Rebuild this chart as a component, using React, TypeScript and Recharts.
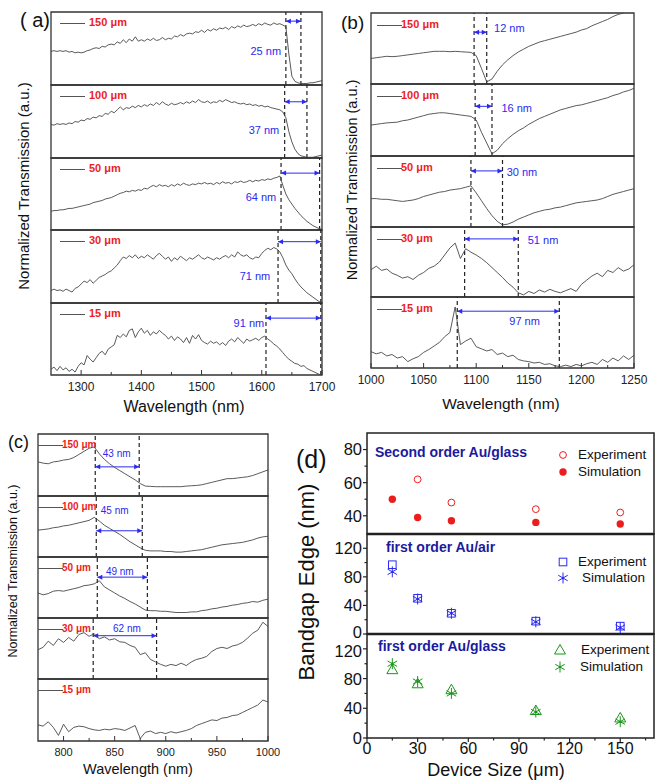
import React from 'react';
import {
  LineChart,
  Line,
  XAxis,
  YAxis,
  ReferenceLine,
  ReferenceArea,
  ReferenceDot,
  ScatterChart,
  Scatter,
} from 'recharts';

const FONT = '"Liberation Sans", Arial, Helvetica, sans-serif';
const CURVE = '#474747';
const FRAME = '#333';
const RED = '#ee1d1d';
const BLUE = '#2a2af2';
const NAVY = '#1b1b9e';
const GREEN = '#1a961a';

// ---------- panel (a): 1250-1700 nm ----------
const A_X = [
  1250, 1255, 1260, 1265, 1270, 1275, 1280, 1285, 1290, 1295,
  1300, 1305, 1310, 1315, 1320, 1325, 1330, 1335, 1340, 1345,
  1350, 1355, 1360, 1365, 1370, 1375, 1380, 1385, 1390, 1395,
  1400, 1405, 1410, 1415, 1420, 1425, 1430, 1435, 1440, 1445,
  1450, 1455, 1460, 1465, 1470, 1475, 1480, 1485, 1490, 1495,
  1500, 1505, 1510, 1515, 1520, 1525, 1530, 1535, 1540, 1545,
  1550, 1555, 1560, 1565, 1570, 1575, 1580, 1585, 1590, 1595,
  1600, 1605, 1610, 1615, 1620, 1625, 1630, 1635, 1640, 1645,
  1650, 1655, 1660, 1665, 1670, 1675, 1680, 1685, 1690, 1695,
  1700,
];
const A150 = [
  0.46, 0.47, 0.46, 0.47, 0.46, 0.47, 0.45, 0.46, 0.44, 0.45,
  0.44, 0.45, 0.47, 0.48, 0.5, 0.51, 0.5, 0.53, 0.52, 0.55,
  0.56, 0.55, 0.59, 0.57, 0.62, 0.58, 0.63, 0.6, 0.66, 0.6,
  0.62, 0.6, 0.63, 0.61, 0.64, 0.61, 0.62, 0.65, 0.62, 0.64,
  0.63, 0.67, 0.66, 0.69, 0.67, 0.7, 0.71, 0.7, 0.73, 0.72,
  0.75, 0.72, 0.76, 0.74, 0.77, 0.75, 0.78, 0.77, 0.79, 0.76,
  0.8, 0.78, 0.81, 0.79, 0.82, 0.8, 0.81, 0.83, 0.81, 0.84,
  0.82, 0.85, 0.83, 0.82, 0.85, 0.83, 0.84, 0.82, 0.8, 0.42,
  0.12, 0.05, 0.03, 0.02, 0.02, 0.02, 0.03, 0.03, 0.04, 0.05,
  0.06,
];
const A100 = [
  0.46, 0.45, 0.47, 0.46, 0.47, 0.46, 0.48, 0.47, 0.5, 0.49,
  0.52, 0.51, 0.54, 0.53, 0.56, 0.55, 0.58, 0.57, 0.61, 0.6,
  0.64, 0.62, 0.66, 0.7, 0.66, 0.69, 0.68, 0.71, 0.69, 0.72,
  0.7, 0.73, 0.71, 0.74, 0.72, 0.76, 0.73, 0.77, 0.74, 0.72,
  0.75, 0.73, 0.74, 0.76, 0.74, 0.77, 0.75, 0.78, 0.76, 0.8,
  0.77, 0.76, 0.78, 0.75, 0.77, 0.76, 0.79, 0.77, 0.8, 0.78,
  0.76, 0.77, 0.75, 0.74, 0.75, 0.73, 0.74, 0.72, 0.73, 0.71,
  0.72, 0.7, 0.71, 0.69, 0.68, 0.67, 0.66, 0.63, 0.55, 0.36,
  0.22, 0.12, 0.06, 0.03, 0.02, 0.01, 0.01, 0.01, 0.02, 0.03,
  0.04,
];
const A50 = [
  0.26, 0.27, 0.27, 0.28, 0.28, 0.29, 0.3, 0.3, 0.31, 0.32,
  0.33, 0.34, 0.35, 0.36, 0.38, 0.39, 0.4, 0.41, 0.43, 0.44,
  0.45, 0.47, 0.49, 0.51, 0.52, 0.54, 0.53, 0.55, 0.54, 0.56,
  0.55, 0.58, 0.57, 0.6, 0.62, 0.6, 0.63, 0.61, 0.62, 0.6,
  0.63, 0.61, 0.64, 0.62, 0.65, 0.63, 0.62, 0.64, 0.63, 0.65,
  0.64, 0.66, 0.64, 0.65, 0.63, 0.66, 0.64, 0.67, 0.65, 0.66,
  0.64, 0.67, 0.66, 0.68, 0.66, 0.67, 0.69, 0.67, 0.69, 0.68,
  0.7, 0.69, 0.71, 0.7, 0.72, 0.73, 0.75, 0.62, 0.5, 0.42,
  0.36, 0.3, 0.25, 0.2, 0.16, 0.12, 0.09, 0.06, 0.04, 0.02,
  0.01,
];
const A30 = [
  0.17, 0.19, 0.17, 0.18, 0.16, 0.19, 0.17, 0.15, 0.2, 0.22,
  0.26, 0.3, 0.28, 0.32, 0.27, 0.31, 0.35, 0.37, 0.39, 0.42,
  0.44, 0.48, 0.52, 0.58, 0.63, 0.61, 0.65, 0.62, 0.66, 0.61,
  0.64, 0.62, 0.66, 0.63, 0.6, 0.65, 0.68, 0.64, 0.6, 0.63,
  0.57, 0.62, 0.59, 0.64, 0.61, 0.58, 0.62, 0.6, 0.63, 0.66,
  0.62, 0.6, 0.63, 0.61, 0.59, 0.62, 0.6, 0.63, 0.65, 0.62,
  0.66, 0.63, 0.7, 0.66, 0.64, 0.66, 0.62, 0.6, 0.63, 0.62,
  0.68, 0.72, 0.75, 0.73, 0.76, 0.74, 0.7, 0.62, 0.52, 0.45,
  0.4, 0.33, 0.27, 0.22, 0.18, 0.14, 0.11, 0.08, 0.05, 0.02,
  0.0,
];
const A15 = [
  0.08, 0.11, 0.06, 0.12, 0.07, 0.1, 0.05, 0.08, 0.04, 0.12,
  0.17, 0.14, 0.27, 0.22, 0.18, 0.24, 0.3, 0.33, 0.28, 0.36,
  0.39, 0.42, 0.55, 0.52, 0.57, 0.53, 0.62, 0.64, 0.52, 0.6,
  0.65, 0.58, 0.62, 0.55, 0.6, 0.57, 0.62, 0.58, 0.55, 0.5,
  0.54, 0.48, 0.53, 0.5, 0.45, 0.52, 0.44, 0.55, 0.5, 0.56,
  0.48, 0.45, 0.43, 0.47, 0.44, 0.46, 0.42, 0.45, 0.41, 0.47,
  0.5, 0.46, 0.52, 0.48, 0.44, 0.5, 0.47, 0.49, 0.51, 0.48,
  0.52, 0.54, 0.5, 0.47, 0.43, 0.4, 0.36, 0.31, 0.26, 0.22,
  0.19, 0.16, 0.15, 0.12, 0.13, 0.09, 0.07, 0.05, 0.03, 0.01,
  0.0,
];
const A_TICKS = [1300, 1350, 1400, 1450, 1500, 1550, 1600, 1650, 1700];
const A_MAJOR = [1300, 1400, 1500, 1600, 1700];
const A_EDGES = [[1640, 1665], [1638, 1675], [1632, 1696], [1627, 1698], [1607, 1698]];
const A_GAPS = ['25 nm', '37 nm', '64 nm', '71 nm', '91 nm'];

// ---------- panel (b): 1000-1250 nm ----------
const B_X = [
  1000, 1005, 1010, 1015, 1020, 1025, 1030, 1035, 1040, 1045,
  1050, 1055, 1060, 1065, 1070, 1075, 1080, 1085, 1090, 1095,
  1100, 1105, 1110, 1115, 1120, 1125, 1130, 1135, 1140, 1145,
  1150, 1155, 1160, 1165, 1170, 1175, 1180, 1185, 1190, 1195,
  1200, 1205, 1210, 1215, 1220, 1225, 1230, 1235, 1240, 1245,
  1250,
];
const B150 = [
  0.36, 0.37, 0.38, 0.39, 0.385, 0.39, 0.4, 0.41, 0.42, 0.43,
  0.44, 0.45, 0.46, 0.46, 0.46, 0.455, 0.46, 0.455, 0.45, 0.445,
  0.4, 0.22, 0.03, 0.07, 0.18, 0.27, 0.34, 0.4, 0.45, 0.49,
  0.53, 0.56, 0.59, 0.61, 0.63, 0.65, 0.67, 0.69, 0.71, 0.73,
  0.76, 0.78, 0.82, 0.85, 0.88, 0.91, 0.95, 0.98, 1.0, 1.03,
  1.05,
];
const B100 = [
  0.43, 0.44, 0.45, 0.46, 0.465, 0.47, 0.49, 0.5, 0.52, 0.54,
  0.56, 0.58, 0.59, 0.6, 0.6, 0.59, 0.58, 0.57, 0.56, 0.55,
  0.5, 0.33, 0.18, 0.03, 0.08, 0.17, 0.24, 0.3, 0.35, 0.39,
  0.44, 0.48, 0.52, 0.55, 0.58, 0.61, 0.64, 0.66, 0.68, 0.7,
  0.71, 0.73, 0.75, 0.77, 0.79, 0.81, 0.84, 0.86, 0.89, 0.91,
  0.94,
];
const B50 = [
  0.4, 0.4, 0.39, 0.39, 0.38, 0.37, 0.36, 0.37, 0.38, 0.4,
  0.43, 0.45, 0.47, 0.49, 0.5, 0.52, 0.53, 0.54, 0.56, 0.58,
  0.48, 0.37, 0.26, 0.16, 0.08, 0.03, 0.04, 0.07, 0.11, 0.14,
  0.17, 0.2, 0.22, 0.24, 0.25, 0.27, 0.28, 0.3, 0.32, 0.34,
  0.35, 0.36, 0.37, 0.38, 0.4, 0.43, 0.46, 0.48, 0.5, 0.52,
  0.54,
];
const B30 = [
  0.39, 0.44, 0.38, 0.4, 0.34, 0.31, 0.27, 0.29, 0.25, 0.31,
  0.35, 0.41, 0.44, 0.5, 0.6, 0.7, 0.77, 0.55, 0.69, 0.64,
  0.6, 0.55, 0.49, 0.42, 0.35, 0.28, 0.2, 0.14, 0.06, 0.03,
  0.08, 0.05, 0.1, 0.07, 0.11, 0.08, 0.06, 0.09, 0.12, 0.08,
  0.18, 0.24, 0.3, 0.34, 0.29, 0.38, 0.35, 0.42, 0.37, 0.4,
  0.46,
];
const B15 = [
  0.23, 0.2, 0.22, 0.17, 0.19, 0.14, 0.16, 0.09, 0.13, 0.16,
  0.22, 0.26, 0.31, 0.36, 0.44, 0.5, 0.86, 0.33, 0.38, 0.42,
  0.3, 0.27, 0.24, 0.26, 0.19, 0.21, 0.16, 0.18, 0.12, 0.1,
  0.09, 0.07, 0.08, 0.05, 0.06, 0.03, 0.02, 0.04, 0.02, 0.05,
  0.03, 0.06, 0.08, 0.05, 0.12, 0.08, 0.14, 0.1, 0.17, 0.12,
  0.18,
];
const B_TICKS = [1000, 1025, 1050, 1075, 1100, 1125, 1150, 1175, 1200, 1225, 1250];
const B_MAJOR = [1000, 1050, 1100, 1150, 1200, 1250];
const B_EDGES = [[1098, 1110], [1099, 1115], [1095, 1125], [1089, 1140], [1082, 1179]];
const B_GAPS = ['12 nm', '16 nm', '30 nm', '51 nm', '97 nm'];

// ---------- panel (c): 775-1000 nm ----------
const C_X = [
  775, 780, 785, 790, 795,
  800, 805, 810, 815, 820, 825, 830, 835, 840, 845,
  850, 855, 860, 865, 870, 875, 880, 885, 890, 895,
  900, 905, 910, 915, 920, 925, 930, 935, 940, 945,
  950, 955, 960, 965, 970, 975, 980, 985, 990, 995,
  1000,
];
const C150 = [
  0.55, 0.53, 0.52, 0.55, 0.56,
  0.58, 0.59, 0.62, 0.67, 0.72, 0.77, 0.79, 0.68, 0.59, 0.52,
  0.46, 0.41, 0.36, 0.31, 0.26, 0.2, 0.16, 0.155, 0.15, 0.15,
  0.15, 0.15, 0.15, 0.15, 0.16, 0.165, 0.17, 0.18, 0.2, 0.22,
  0.24, 0.26, 0.28, 0.28, 0.29, 0.3, 0.31, 0.33, 0.36, 0.39,
  0.42,
];
const C100 = [
  0.44, 0.45, 0.46, 0.48, 0.49,
  0.51, 0.52, 0.54, 0.56, 0.58, 0.6, 0.65, 0.59, 0.52, 0.47,
  0.42, 0.37, 0.31, 0.25, 0.2, 0.15, 0.11, 0.1, 0.1, 0.1,
  0.09, 0.09, 0.08, 0.08, 0.09, 0.1, 0.11, 0.12, 0.14, 0.16,
  0.18, 0.2, 0.21, 0.22, 0.23, 0.24, 0.26, 0.28, 0.31, 0.33,
  0.34,
];
const C50 = [
  0.41, 0.38, 0.4, 0.44, 0.45,
  0.44, 0.46, 0.48, 0.5, 0.53, 0.54, 0.56, 0.61, 0.51, 0.46,
  0.41, 0.36, 0.32, 0.27, 0.23, 0.18, 0.13, 0.12, 0.12, 0.11,
  0.11, 0.1, 0.09, 0.09, 0.09, 0.1, 0.1, 0.12, 0.13, 0.15,
  0.16, 0.18, 0.19, 0.21, 0.22, 0.24, 0.25, 0.27, 0.26, 0.29,
  0.31,
];
const C30 = [
  0.48, 0.52, 0.62, 0.55, 0.66,
  0.6, 0.68, 0.62, 0.73, 0.76, 0.7, 0.74, 0.66, 0.69, 0.64,
  0.66, 0.61, 0.6, 0.55, 0.52, 0.4, 0.43, 0.32, 0.28, 0.24,
  0.21, 0.24, 0.22, 0.26, 0.22, 0.28, 0.32, 0.34, 0.37, 0.45,
  0.5, 0.52, 0.5, 0.54, 0.56, 0.6, 0.67, 0.75, 0.8, 0.93,
  0.86,
];
const C15 = [
  0.26, 0.24, 0.31, 0.22, 0.09,
  0.27, 0.15, 0.22, 0.24, 0.23, 0.2, 0.18, 0.17, 0.19, 0.18,
  0.2, 0.19, 0.17, 0.21, 0.25, 0.04, 0.14, 0.16, 0.12, 0.14,
  0.12, 0.15, 0.13, 0.15, 0.17, 0.2, 0.25, 0.28, 0.31, 0.34,
  0.33, 0.37, 0.38, 0.41, 0.42, 0.46, 0.5, 0.54, 0.58, 0.66,
  0.63,
];
const C_TICKS = [800, 825, 850, 875, 900, 925, 950, 975, 1000];
const C_MAJOR = [800, 850, 900, 950, 1000];
const C_EDGES = [[831, 874], [832, 877], [833, 882], [829, 891], null];
const C_GAPS = ['43 nm', '45 nm', '49 nm', '62 nm', ''];

const SIZES = ['150 μm', '100 μm', '50 μm', '30 μm', '15 μm'];

// ---------- panel (d): bandgap edge vs device size ----------
const DEVICE = [15, 30, 50, 100, 150];
const SO_EXP = [null, 62, 48, 44, 42];
const SO_SIM = [50, 39, 37, 36, 35];
const AIR_EXP = [97, 50, 29, 18, 11];
const AIR_SIM = [87, 49, 29, 17, 9];
const GL_EXP = [92, 73, 65, 37, 27];
const GL_SIM = [100, 76, 60, 35, 22];
const D_XTICKS = [0, 15, 30, 45, 60, 75, 90, 105, 120, 135, 150, 165];
const D_XMAJOR = [0, 30, 60, 90, 120, 150];

type Anchor = 'start' | 'middle' | 'end';
type Spec = {
  left: number; top: number; width: number; rows: number[]; domain: [number, number];
  xs: number[]; ys: number[][]; ticks: number[]; major: number[];
  edges: (number[] | null)[]; gaps: string[];
  arrowY: number[]; labels: [number, number, Anchor][];
  legend: { x0: number; x1: number; tx: number; dy: number; size: number };
  tickFont: number; nmFont: number; axisH: number;
};

const PANEL_A: Spec = {
  left: 51, top: 12, width: 271, rows: [73, 73, 72, 73, 72], domain: [1250, 1700],
  xs: A_X, ys: [A150, A100, A50, A30, A15], ticks: A_TICKS, major: A_MAJOR,
  edges: A_EDGES, gaps: A_GAPS,
  arrowY: [0.875, 0.77, 0.79, 0.84, 0.79],
  labels: [[1632, 0.47, 'end'], [1629, 0.38, 'end'], [1624, 0.45, 'end'], [1614, 0.37, 'end'], [1604, 0.72, 'end']],
  legend: { x0: 60, x1: 85, tx: 89, dy: 11, size: 11 },
  tickFont: 12, nmFont: 11, axisH: 20,
};
const PANEL_B: Spec = {
  left: 371, top: 13, width: 263, rows: [71, 72, 71, 70, 71], domain: [1000, 1250],
  xs: B_X, ys: [B150, B100, B50, B30, B15], ticks: B_TICKS, major: B_MAJOR,
  edges: B_EDGES, gaps: B_GAPS,
  arrowY: [0.73, 0.69, 0.79, 0.83, 0.8],
  labels: [[1117, 0.79, 'start'], [1124, 0.67, 'start'], [1129, 0.77, 'start'], [1149, 0.81, 'start'], [1146, 0.66, 'middle']],
  legend: { x0: 377, x1: 402, tx: 401, dy: 12, size: 11 },
  tickFont: 12, nmFont: 11, axisH: 20,
};
const PANEL_C: Spec = {
  left: 38, top: 434, width: 230, rows: [62, 61, 61, 61, 62], domain: [775, 1000],
  xs: C_X, ys: [C150, C100, C50, C30, C15], ticks: C_TICKS, major: C_MAJOR,
  edges: C_EDGES, gaps: C_GAPS,
  arrowY: [0.47, 0.43, 0.67, 0.71, 0],
  labels: [[852, 0.69, 'middle'], [850, 0.77, 'middle'], [855, 0.77, 'middle'], [862, 0.83, 'middle'], [0, 0, 'middle']],
  legend: { x0: 38, x1: 63, tx: 62, dy: 11, size: 10 },
  tickFont: 11, nmFont: 10, axisH: 18,
};

const specTick = (major: number[], show: boolean, size: number) => (props: any) => {
  const { x, y, payload } = props;
  const m = major.includes(payload.value);
  return (
    <g>
      <line x1={x} x2={x} y1={y} y2={y - (m ? 5 : 3)} stroke={FRAME} strokeWidth={1} />
      {show && m && (
        <text x={x} y={y + 7} dy="0.71em" textAnchor="middle" fontSize={size} fontFamily={FONT} fill="#222">
          {payload.value}
        </text>
      )}
    </g>
  );
};

const Arrow = (p: any) => {
  const a = Math.min(p.x1, p.x2);
  const b = Math.max(p.x1, p.x2);
  const y = p.y1;
  return (
    <g>
      <line x1={a} x2={b} y1={y} y2={y} stroke={BLUE} strokeWidth={1} />
      <path d={`M${a},${y} l5,-2.5 v5 z`} fill={BLUE} />
      <path d={`M${b},${y} l-5,-2.5 v5 z`} fill={BLUE} />
    </g>
  );
};

function SpecRow({ p, i }: { p: Spec; i: number }) {
  const h = p.rows[i];
  const last = i === p.rows.length - 1;
  const top = p.top + p.rows.slice(0, i).reduce((s, v) => s + v, 0);
  const data = p.xs.map((x, k) => ({ x, y: p.ys[i][k] }));
  const edge = p.edges[i];
  const [lx, ly, anchor] = p.labels[i];
  const lg = p.legend;
  return (
    <div style={{ position: 'absolute', left: p.left, top }}>
      <LineChart
        width={p.width}
        height={h + (last ? p.axisH : 0)}
        data={data}
        margin={{ top: 0, right: 0, bottom: 0, left: 0 }}
      >
        <XAxis
          dataKey="x"
          type="number"
          domain={p.domain}
          allowDataOverflow
          ticks={p.ticks}
          interval={0}
          tickLine={false}
          axisLine={false}
          tickSize={0}
          tickMargin={0}
          height={last ? p.axisH : 0}
          tick={specTick(p.major, last, p.tickFont)}
        />
        <YAxis hide type="number" domain={[0, 1]} allowDataOverflow />
        <ReferenceArea
          x1={p.domain[0]}
          x2={p.domain[1]}
          y1={0}
          y2={1}
          fill="none"
          stroke={FRAME}
          strokeWidth={1.3}
        />
        {edge && <ReferenceLine x={edge[0]} stroke="#222" strokeDasharray="4 3" strokeWidth={1.2} />}
        {edge && <ReferenceLine x={edge[1]} stroke="#222" strokeDasharray="4 3" strokeWidth={1.2} />}
        {edge && (
          <ReferenceLine
            segment={[{ x: edge[0], y: p.arrowY[i] }, { x: edge[1], y: p.arrowY[i] }]}
            shape={Arrow}
          />
        )}
        {edge && (
          <ReferenceDot
            x={lx}
            y={ly}
            r={0}
            shape={(d: any) => (
              <text x={d.cx} y={d.cy} dy="0.35em" textAnchor={anchor} fontSize={p.nmFont} fontFamily={FONT} fill={BLUE}>
                {p.gaps[i]}
              </text>
            )}
          />
        )}
        <Line
          type="linear"
          dataKey="y"
          stroke={CURVE}
          strokeWidth={0.9}
          dot={false}
          isAnimationActive={false}
        />
      </LineChart>
      <div
        style={{
          position: 'absolute',
          left: lg.x0 - p.left,
          top: lg.dy,
          width: lg.x1 - lg.x0,
          borderTop: '1px solid #555',
        }}
      />
      <div
        style={{
          position: 'absolute',
          left: lg.tx - p.left,
          top: lg.dy - lg.size * 0.6,
          fontSize: lg.size,
          lineHeight: 1.1,
          fontWeight: 'bold',
          color: RED,
          whiteSpace: 'nowrap',
        }}
      >
        {SIZES[i]}
      </div>
    </div>
  );
}

function SpecPanel({ p }: { p: Spec }) {
  return (
    <>
      {p.rows.map((_, i) => (
        <SpecRow key={i} p={p} i={i} />
      ))}
    </>
  );
}

// ---------- panel (d) ----------
type Kind = 'ocircle' | 'fcircle' | 'square' | 'bstar' | 'tri' | 'gstar';

function Mark({ kind, cx, cy }: { kind: Kind; cx: number; cy: number }) {
  if (kind === 'ocircle') return <circle cx={cx} cy={cy} r={3.4} fill="none" stroke={RED} strokeWidth={1} />;
  if (kind === 'fcircle') return <circle cx={cx} cy={cy} r={3.7} fill={RED} />;
  if (kind === 'square')
    return <rect x={cx - 3.8} y={cy - 3.8} width={7.6} height={7.6} fill="none" stroke={BLUE} strokeWidth={1} />;
  if (kind === 'tri')
    return <path d={`M${cx},${cy - 5.5} L${cx + 5.5},${cy + 4} L${cx - 5.5},${cy + 4} Z`} fill="none" stroke={GREEN} strokeWidth={1} />;
  const col = kind === 'bstar' ? BLUE : GREEN;
  const r = 5.5;
  const c = r * 0.866;
  const s = r * 0.5;
  return (
    <g stroke={col} strokeWidth={1}>
      <line x1={cx} y1={cy - r} x2={cx} y2={cy + r} />
      <line x1={cx - c} y1={cy - s} x2={cx + c} y2={cy + s} />
      <line x1={cx - c} y1={cy + s} x2={cx + c} y2={cy - s} />
      <circle cx={cx} cy={cy} r={1.2} fill={col} stroke="none" />
    </g>
  );
}

const D_LEFT = 367;
const D_W = 287;
const D_AXW = 44;

const D_ROWS: {
  top: number; h: number; domain: [number, number]; ticks: number[]; major: number[];
  nudge: number[]; series: { ys: (number | null)[]; kind: Kind }[];
}[] = [
  {
    top: 433, h: 101, domain: [29, 90], ticks: [40, 50, 60, 70, 80], major: [40, 60, 80], nudge: [0, 0],
    series: [{ ys: SO_EXP, kind: 'ocircle' }, { ys: SO_SIM, kind: 'fcircle' }],
  },
  {
    top: 534, h: 100, domain: [0, 140], ticks: [0, 20, 40, 60, 80, 100, 120], major: [0, 40, 80, 120], nudge: [-2, 0],
    series: [{ ys: AIR_EXP, kind: 'square' }, { ys: AIR_SIM, kind: 'bstar' }],
  },
  {
    top: 634, h: 104, domain: [0, 140], ticks: [0, 20, 40, 60, 80, 100, 120], major: [0, 40, 80, 120], nudge: [0, 2],
    series: [{ ys: GL_EXP, kind: 'tri' }, { ys: GL_SIM, kind: 'gstar' }],
  },
];

// nudge: [shift of the lowest label, shift of the highest label]
const dYTick = (major: number[], nudge: number[]) => (props: any) => {
  const { x, y, payload } = props;
  const m = major.includes(payload.value);
  const lo = payload.value === major[0];
  const hi = payload.value === major[major.length - 1];
  const shift = lo ? nudge[0] : hi ? nudge[1] : 0;
  return (
    <g>
      <line x1={x} x2={x - (m ? 4 : 2.5)} y1={y} y2={y} stroke="#222" strokeWidth={1.2} />
      {m && (
        <text x={x - 5} y={y + shift} dy="0.36em" textAnchor="end" fontSize={16.5} fontFamily={FONT} fill="#111">
          {payload.value}
        </text>
      )}
    </g>
  );
};

const dXTick = (show: boolean) => (props: any) => {
  const { x, y, payload } = props;
  const m = D_XMAJOR.includes(payload.value);
  return (
    <g>
      <line x1={x} x2={x} y1={y} y2={y + (m ? 4 : 2.5)} stroke="#222" strokeWidth={1.2} />
      {show && m && (
        <text x={x} y={y + 5} dy="0.71em" textAnchor="middle" fontSize={16} fontFamily={FONT} fill="#111">
          {payload.value}
        </text>
      )}
    </g>
  );
};

function DRow({ i }: { i: number }) {
  const r = D_ROWS[i];
  const last = i === D_ROWS.length - 1;
  const axH = last ? 20 : 0;
  return (
    <div style={{ position: 'absolute', left: D_LEFT - D_AXW, top: r.top }}>
      <ScatterChart width={D_W + D_AXW} height={r.h + axH} margin={{ top: 0, right: 0, bottom: 0, left: 0 }}>
        <XAxis
          dataKey="x"
          type="number"
          domain={[0, 170]}
          allowDataOverflow
          ticks={D_XTICKS}
          interval={0}
          tickLine={false}
          axisLine={false}
          tickSize={0}
          tickMargin={0}
          height={axH}
          tick={last ? dXTick(true) : false}
        />
        <YAxis
          dataKey="y"
          type="number"
          domain={r.domain}
          allowDataOverflow
          ticks={r.ticks}
          interval={0}
          width={D_AXW}
          tickLine={false}
          axisLine={false}
          tickSize={0}
          tickMargin={0}
          tick={dYTick(r.major, r.nudge)}
        />
        <ReferenceArea
          x1={0}
          x2={170}
          y1={r.domain[0]}
          y2={r.domain[1]}
          fill="none"
          stroke="#222"
          strokeWidth={1.5}
        />
        {!last && <ReferenceLine y={r.domain[0]} stroke="#222" strokeWidth={2.6} />}
        {r.series.map((s, k) => (
          <Scatter
            key={k}
            data={DEVICE.map((x, j) => ({ x, y: s.ys[j] })).filter((d) => d.y !== null)}
            shape={(pp: any) => <Mark kind={s.kind} cx={pp.cx} cy={pp.cy} />}
            isAnimationActive={false}
          />
        ))}
      </ScatterChart>
    </div>
  );
}

function LegendItem({ kind, x, y, tx, label }: { kind: Kind; x: number; y: number; tx: number; label: string }) {
  return (
    <>
      <svg style={{ position: 'absolute', left: x - 8, top: y - 8, overflow: 'visible' }} width={16} height={16}>
        <Mark kind={kind} cx={8} cy={8} />
      </svg>
      <div style={{ position: 'absolute', left: tx, top: y - 9, fontSize: 13.5, lineHeight: '18px', color: '#111' }}>
        {label}
      </div>
    </>
  );
}

function Txt({ x, y, size, children, bold, color, anchor }: any) {
  const tx = anchor === 'middle' ? 'translate(-50%,-50%)' : 'translate(0,-50%)';
  return (
    <div
      style={{
        position: 'absolute',
        left: x,
        top: y,
        transform: tx,
        fontSize: size,
        fontWeight: bold ? 'bold' : 'normal',
        color: color || '#111',
        whiteSpace: 'nowrap',
        lineHeight: 1,
      }}
    >
      {children}
    </div>
  );
}

function VTxt({ x, y, size, children }: any) {
  return (
    <div
      style={{
        position: 'absolute',
        left: x,
        top: y,
        transform: 'translate(-50%,-50%) rotate(-90deg)',
        fontSize: size,
        whiteSpace: 'nowrap',
        lineHeight: 1,
        color: '#111',
      }}
    >
      {children}
    </div>
  );
}

export default function App() {
  return (
    <div
      style={{
        position: 'absolute',
        left: 0,
        top: 0,
        width: 661,
        height: 784,
        background: '#fff',
        fontFamily: FONT,
        overflow: 'hidden',
      }}
    >
      <style>{'.recharts-surface{overflow:visible}'}</style>
      <SpecPanel p={PANEL_A} />
      <SpecPanel p={PANEL_B} />
      <SpecPanel p={PANEL_C} />
      {D_ROWS.map((_, i) => (
        <DRow key={i} i={i} />
      ))}

      {/* panel letters */}
      <Txt x={20} y={20} size={20}>( a)</Txt>
      <Txt x={341} y={22} size={19}>(b)</Txt>
      <Txt x={8} y={442} size={18}>(c)</Txt>
      <Txt x={296} y={459} size={25}>(d)</Txt>

      {/* axis titles */}
      <VTxt x={23} y={186} size={15}>Normalized Transmission (a.u.)</VTxt>
      <VTxt x={352} y={180} size={14.5}>Normalized Transmission (a.u.)</VTxt>
      <VTxt x={13} y={571} size={12.5}>Normalized Transmission (a.u.)</VTxt>
      <VTxt x={307} y={582} size={22}>Bandgap Edge (nm)</VTxt>
      <Txt x={184} y={407} size={16} anchor="middle">Wavelength (nm)</Txt>
      <Txt x={501} y={404} size={15.5} anchor="middle">Wavelength (nm)</Txt>
      <Txt x={138} y={769} size={14.5} anchor="middle">Wavelength (nm)</Txt>
      <Txt x={496} y={770} size={18} anchor="middle">{'Device Size (μm)'}</Txt>

      {/* panel (d) titles and legends */}
      <Txt x={375} y={452} size={14} bold color={NAVY}>Second order Au/glass</Txt>
      <Txt x={386} y={547} size={14} bold color={NAVY}>first order Au/air</Txt>
      <Txt x={378} y={646} size={14} bold color={NAVY}>first order Au/glass</Txt>
      <LegendItem kind="ocircle" x={563} y={455} tx={578} label="Experiment" />
      <LegendItem kind="fcircle" x={563} y={472} tx={578} label="Simulation" />
      <LegendItem kind="square" x={563} y={562} tx={578} label="Experiment" />
      <LegendItem kind="bstar" x={563} y={578} tx={582} label="Simulation" />
      <LegendItem kind="tri" x={560} y={650} tx={581} label="Experiment" />
      <LegendItem kind="gstar" x={560} y={667} tx={580} label="Simulation" />
    </div>
  );
}
